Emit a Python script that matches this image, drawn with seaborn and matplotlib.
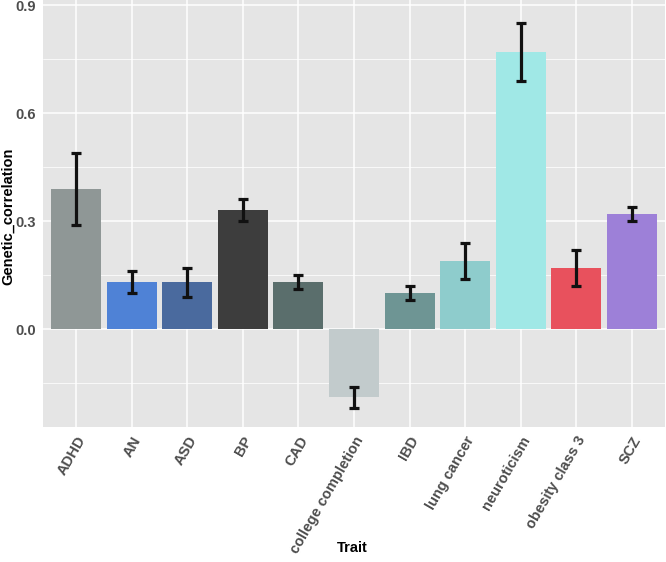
import matplotlib
matplotlib.use("Agg")
import matplotlib.pyplot as plt
import seaborn as sns
import pandas as pd
import numpy as np
from matplotlib.ticker import MultipleLocator

traits = ["ADHD", "AN", "ASD", "BP", "CAD", "college completion", "IBD",
          "lung cancer", "neuroticism", "obesity class 3", "SCZ"]
genetic_correlation = [0.39, 0.13, 0.13, 0.33, 0.13, -0.19, 0.10, 0.19, 0.77, 0.17, 0.32]
error = [0.10, 0.03, 0.04, 0.03, 0.02, 0.03, 0.02, 0.05, 0.08, 0.05, 0.02]
bar_colors = ["#8f9796", "#4f82d6", "#4a6a9e", "#3d3d3d", "#5a6e6c", "#c2cbcc",
              "#6e9594", "#8ecccc", "#a0e8e6", "#e8515d", "#9d80d8"]

df = pd.DataFrame({"Trait": traits, "Genetic_correlation": genetic_correlation, "se": error})

sns.set_theme(style="darkgrid")
plt.rcParams["font.family"] = ["Liberation Sans", "DejaVu Sans"]

fig = plt.figure(figsize=(6.66, 5.62), dpi=100)
ax = fig.add_axes([43 / 666, 1 - 427 / 562, 622 / 666, 427 / 562])
ax.set_facecolor("#e5e5e5")

sns.barplot(data=df, x="Trait", y="Genetic_correlation", hue="Trait", order=traits,
            hue_order=traits, palette=dict(zip(traits, bar_colors)), width=0.9,
            dodge=False, legend=False, saturation=1, errorbar=None, ax=ax, zorder=3,
            linewidth=0)

xpos = np.arange(len(traits))
ax.errorbar(xpos, df["Genetic_correlation"], yerr=df["se"], fmt="none",
            ecolor="#111111", elinewidth=2.3, capsize=3.8, capthick=2.3, zorder=4)

ax.set_xlim(-0.6, len(traits) - 0.4)
ax.set_ylim(-0.272, 0.914)
ax.yaxis.set_minor_locator(MultipleLocator(0.15))
ax.set_yticks([0.0, 0.3, 0.6, 0.9])
ax.set_yticklabels(["0.0", "0.3", "0.6", "0.9"], fontweight="bold")

ax.grid(which="major", color="white", linewidth=1.1, zorder=0)
ax.grid(which="minor", axis="y", color="white", linewidth=0.55, zorder=0)
ax.set_axisbelow(True)
for s in ax.spines.values():
    s.set_visible(False)

ax.tick_params(axis="both", which="major", length=3, width=0.8, color="#555555",
               labelsize=10.5, labelcolor="#4d4d4d", pad=2)
ax.tick_params(axis="both", which="minor", length=0)
ax.set_xticks(xpos)
ax.set_xticklabels(traits, rotation=60, ha="right", rotation_mode="anchor",
                   fontweight="bold", color="#4d4d4d", fontsize=10.5)

ax.set_xlabel("Trait", fontsize=10.5, fontweight="bold", color="black")
ax.set_ylabel("Genetic_correlation", fontsize=10.5, fontweight="bold", color="black")
ax.xaxis.set_label_coords((352 - 43) / 622, (427 - 548) / 427)
ax.yaxis.set_label_coords((8 - 43) / 622, (427 - 216) / 427)
ax.xaxis.label.set_va("center")
ax.yaxis.label.set_va("center")

fig.savefig("out.png", dpi=100)
